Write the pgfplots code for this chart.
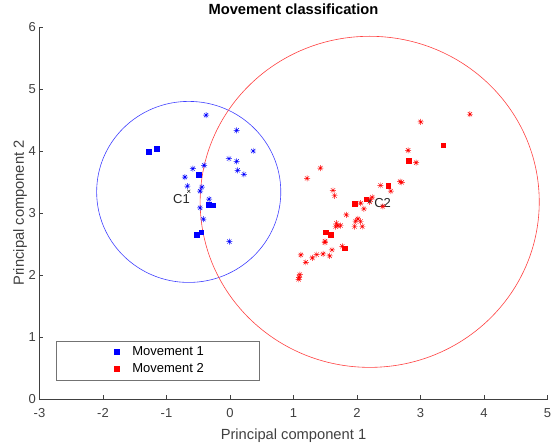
\documentclass[border=0pt]{standalone}
\usepackage{fontspec}
\setmainfont{Liberation Sans}
\usepackage{pgfplots}
\pgfplotsset{compat=1.18}

% MATLAB style '*' marker: plus and cross together
\pgfdeclareplotmark{mstar}{%
  \pgfpathmoveto{\pgfpoint{-\pgfplotmarksize}{0pt}}%
  \pgfpathlineto{\pgfpoint{\pgfplotmarksize}{0pt}}%
  \pgfpathmoveto{\pgfpoint{0pt}{-\pgfplotmarksize}}%
  \pgfpathlineto{\pgfpoint{0pt}{\pgfplotmarksize}}%
  \pgfpathmoveto{\pgfpoint{-0.7\pgfplotmarksize}{-0.7\pgfplotmarksize}}%
  \pgfpathlineto{\pgfpoint{0.7\pgfplotmarksize}{0.7\pgfplotmarksize}}%
  \pgfpathmoveto{\pgfpoint{-0.7\pgfplotmarksize}{0.7\pgfplotmarksize}}%
  \pgfpathlineto{\pgfpoint{0.7\pgfplotmarksize}{-0.7\pgfplotmarksize}}%
  \pgfusepathqstroke}

\definecolor{axgray}{gray}{0.25}
\definecolor{mblue}{rgb}{0,0,1}
\definecolor{mred}{rgb}{1,0,0}

\begin{document}
\begin{tikzpicture}
\path[use as bounding box] (-39.5pt,-44pt) rectangle (511.5pt,399pt);
\begin{axis}[
    at={(0pt,0pt)}, anchor=south west,
    scale only axis,
    width=508pt, height=372pt,
    xmin=-3, xmax=5, ymin=0, ymax=6,
    axis lines*=left,
    axis line style={-, axgray, line width=0.5pt},
    tick align=inside,
    major tick length=3.5pt,
    tick style={axgray, line width=0.5pt},
    xtick={-3,-2,-1,0,1,2,3,4,5},
    xticklabels={-3,-2,-1,0,1,2,3,4,5},
    ytick={0,1,2,3,4,5,6},
    yticklabels={0,1,2,3,4,5,6},
    ticklabel style={font=\fontsize{13}{15}\selectfont, text=axgray},
    xticklabel style={anchor=base, yshift=-18.5pt},
    title={\textbf{Movement classification}},
    title style={at={(axis description cs:0.5,1)}, anchor=base, yshift=6pt,
      font=\fontsize{14.7}{17}\selectfont},
    xlabel={Principal component 1},
    ylabel={Principal component 2},
    label style={font=\fontsize{14.7}{17}\selectfont, text=axgray},
    xlabel style={at={([yshift=-41pt]axis description cs:0.5,0)}, anchor=base},
    ylabel style={at={([xshift=-15.5pt]axis description cs:0,0.5)}, anchor=base, rotate=0},
    legend style={at={(axis cs:-2.74,0.306)}, anchor=south west,
      draw=black!55, line width=0.5pt,
      font=\fontsize{13}{15}\selectfont,
      inner xsep=53pt, inner ysep=4pt, row sep=2pt,
      cells={anchor=west}},
    legend image code/.code={%
      \path (-7pt,0pt) (13.5pt,0pt);
      \draw[mark repeat=2, mark phase=2, #1] plot coordinates {(0pt,0pt) (0pt,0pt) (0pt,0pt)};},
    clip=false,
]
% square markers (legend series)
\addplot[only marks, mark=square*, mark size=2.4pt, color=mblue] coordinates {
  (-1.283,3.983) (-1.151,4.039) (-0.487,3.618) (-0.330,3.138) (-0.272,3.126)
  (-0.523,2.652) (-0.455,2.690)
};
\addlegendentry{Movement 1}
\addplot[only marks, mark=square*, mark size=2.4pt, color=mred] coordinates {
  (3.359,4.092) (2.810,3.838) (2.491,3.434) (2.146,3.223) (1.958,3.154)
  (1.502,2.690) (1.581,2.648) (1.805,2.431)
};
\addlegendentry{Movement 2}

% asterisk markers
\addplot[only marks, mark=mstar, mark size=3pt, color=mblue, line width=0.45pt, forget plot] coordinates {
  (-0.377,4.577) (0.105,4.334) (0.366,4.000) (-0.016,3.877) (0.105,3.833)
  (-0.586,3.715) (-0.408,3.768) (0.121,3.688) (0.220,3.623) (-0.711,3.579)
  (-0.670,3.434) (-0.444,3.417) (-0.471,3.353) (-0.330,3.223) (-0.471,3.084)
  (-0.419,2.900) (-0.011,2.539)
};
\addplot[only marks, mark=mstar, mark size=3pt, color=mred, line width=0.45pt, forget plot] coordinates {
  (3.779,4.593) (3.003,4.469) (2.805,4.011) (2.931,3.812) (1.424,3.725)
  (1.213,3.558) (2.680,3.505) (2.705,3.493) (2.370,3.445) (1.622,3.364)
  (2.532,3.353) (1.648,3.278) (2.240,3.256) (2.214,3.214) (2.198,3.181)
  (2.057,3.159) (2.407,3.106) (2.108,3.068) (1.832,2.971) (2.014,2.906)
  (1.978,2.868) (2.057,2.863) (1.675,2.835) (1.700,2.798) (1.743,2.798)
  (1.664,2.782) (1.962,2.782) (2.083,2.782) (1.496,2.544) (1.496,2.523)
  (1.769,2.463) (1.606,2.405) (1.465,2.340) (1.366,2.329) (1.570,2.308)
  (1.115,2.324) (1.298,2.276) (1.193,2.205) (1.099,2.006) (1.088,1.962)
  (1.079,1.930)
};

% centroids
\addplot[only marks, mark=x, mark size=2.2pt, color=black!80, line width=0.5pt, forget plot] coordinates {
  (-0.65,3.35) (2.20,3.19)
};
\node[anchor=base east, inner sep=0pt, font=\fontsize{13}{15}\selectfont, text=black!85] at (axis cs:-0.63,3.15) {C1};
\node[anchor=base west, inner sep=0pt, font=\fontsize{13}{15}\selectfont, text=black!85] at (axis cs:2.27,3.094) {C2};

% cluster circles
\draw[color=mblue!75!white, line width=0.6pt] (axis cs:-0.65,3.34) ellipse [x radius=1.45, y radius=1.46];
\draw[color=mred!75!white, line width=0.6pt] (axis cs:2.20,3.18) ellipse [x radius=2.67, y radius=2.67];
\end{axis}
\end{tikzpicture}
\end{document}
